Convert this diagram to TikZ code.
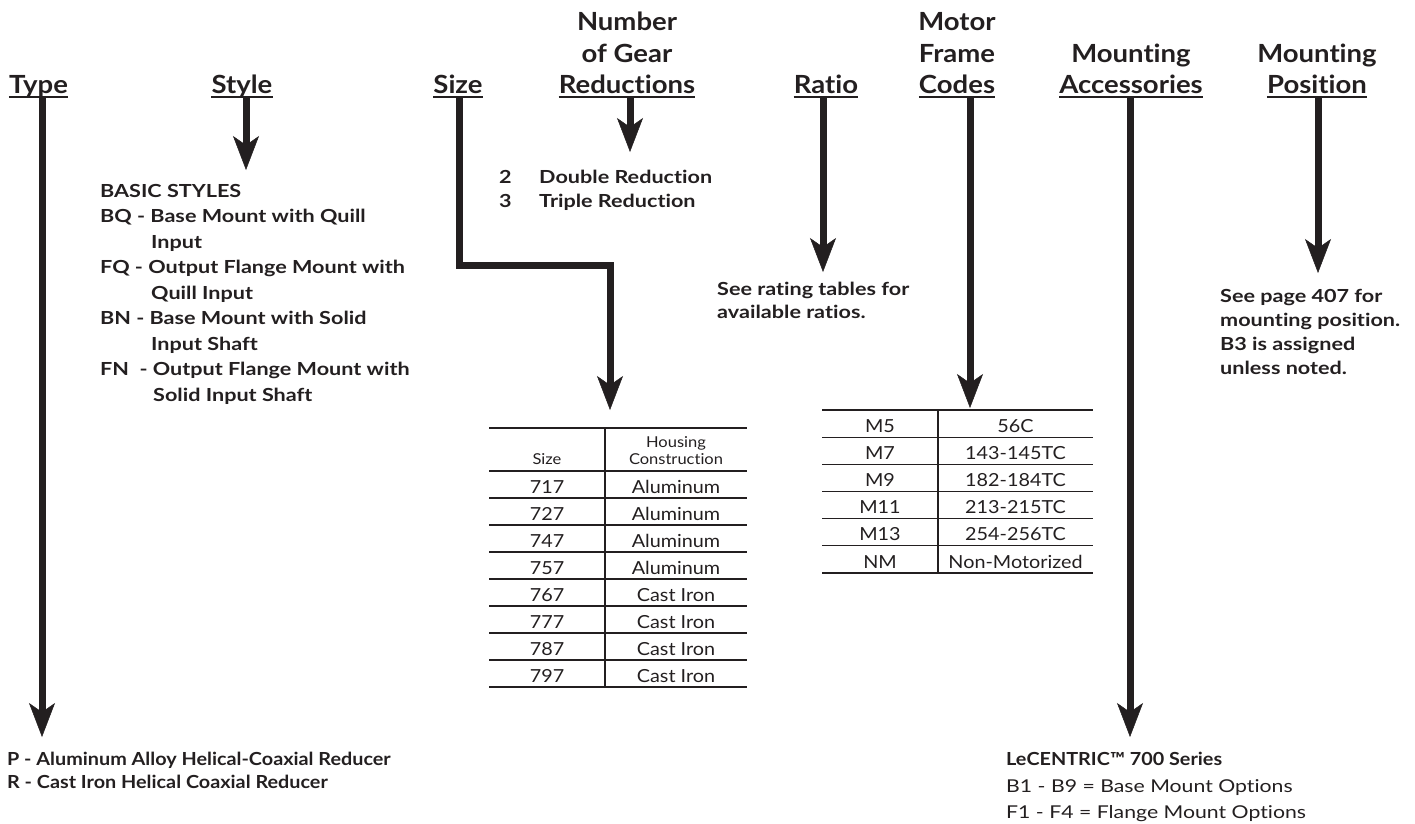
\documentclass[tikz,border=0pt]{standalone}
\usepackage{fontspec}
\setmainfont{Lato}[FakeStretch=1.2,Ligatures=NoCommon]
\newfontfamily\hdrfont{Lato}[FakeStretch=1.1,Ligatures=NoCommon]
\newfontfamily\cellfont{Lato}[FakeStretch=1.1,Ligatures=NoCommon]
\usetikzlibrary{arrows.meta}
\definecolor{ink}{HTML}{231F20}

\begin{document}
\begin{tikzpicture}[x=1pt,y=-1pt,
  hdr/.style={font=\hdrfont\fontsize{25}{25}\selectfont\bfseries,text=ink,inner sep=0pt,text height=18pt,text depth=4pt,anchor=base},
  body/.style={font=\fontsize{18}{18}\selectfont\bfseries,text=ink,inner sep=0pt,anchor=base west},
  foot/.style={font=\hdrfont\fontsize{18}{18}\selectfont\bfseries,text=ink,inner sep=0pt,anchor=base west},
  note/.style={font=\fontsize{17.7}{17.7}\selectfont,text=ink,inner sep=0pt,anchor=base west},
  cell/.style={font=\cellfont\fontsize{18}{18}\selectfont,text=ink,inner sep=0pt,anchor=base},
  colhead/.style={font=\cellfont\fontsize{15}{15}\selectfont,text=ink,inner sep=0pt,anchor=base},
  uline/.style={draw=ink,line width=1.5pt},
  arr/.style={draw=ink,line width=7pt,-{Stealth[length=34pt,width=26pt,inset=9pt,line width=0.5pt]}},
  thickrule/.style={draw=ink,line width=2.5pt},
  thinrule/.style={draw=ink,line width=1.2pt}]
  \useasboundingbox (0,0) rectangle (1415,823);

  % column headings
  \node[hdr] (hType) at (38.5,93) {Type};
  \node[hdr] (hStyle) at (242,93) {Style};
  \node[hdr] (hSize) at (458,93) {Size};
  \node[hdr] (hNum) at (627,30) {Number};
  \node[hdr] (hGear) at (627,62) {of Gear};
  \node[hdr] (hRed) at (627,93) {Reductions};
  \node[hdr] (hRatio) at (826,93) {Ratio};
  \node[hdr] (hMotor) at (957,30) {Motor};
  \node[hdr] (hFrame) at (957,62) {Frame};
  \node[hdr] (hCodes) at (957,93) {Codes};
  \node[hdr] (hAccM) at (1131,62) {Mounting};
  \node[hdr] (hAcc) at (1131,93) {Accessories};
  \node[hdr] (hPosM) at (1317,62) {Mounting};
  \node[hdr] (hPos) at (1317,93) {Position};
  \foreach \h in {hType,hStyle,hSize,hRed,hRatio,hCodes,hAcc,hPos}
    \draw[uline] (\h.south west) -- (\h.south east);

  % arrow ends
  \coordinate (tType) at (42,737);
  \coordinate (tStyle) at (246,170);
  \coordinate (kSize) at (459,265);
  \coordinate (tSize) at (610,410);
  \coordinate (tRed) at (630,152);
  \coordinate (tRatio) at (823,272);
  \coordinate (tCodes) at (970,408);
  \coordinate (tAcc) at (1130,737);
  \coordinate (tPos) at (1318,273);

  \draw[arr] (hType.south -| tType) -- (tType);
  \draw[arr] (hStyle.south -| tStyle) -- (tStyle);
  \draw[arr] (hSize.south -| kSize) -- (kSize) -| (tSize);
  \draw[arr] (hRed.south -| tRed) -- (tRed);
  \draw[arr] (hRatio.south -| tRatio) -- (tRatio);
  \draw[arr] (hCodes.south -| tCodes) -- (tCodes);
  \draw[arr] (hAcc.south -| tAcc) -- (tAcc);
  \draw[arr] (hPos.south -| tPos) -- (tPos);

  % style list
  \foreach \x/\t [count=\i from 0] in {100/BASIC STYLES, 100/{BQ - Base Mount with Quill}, 151/Input,
      100/{FQ - Output Flange Mount with}, 151/{Quill Input}, 100/{BN - Base Mount with Solid},
      151/{Input Shaft}, 100/{FN\ \ - Output Flange Mount with}, 153/{Solid Input Shaft}}
    \node[body] (sty\i) at (\x,197+25.5*\i) {\t};

  % reductions
  \foreach \n/\t [count=\i from 0] in {2/Double Reduction, 3/Triple Reduction} {
    \node[body] (rn\i) at (499,183+24*\i) {\n};
    \node[body] (rt\i) at (539,183+24*\i) {\t};
  }

  % ratio and position notes
  \node[body] (rat1) at (717,295) {See rating tables for};
  \node[body] (rat2) at (717,318) {available ratios.};
  \foreach \t [count=\i from 0] in {See page 407 for, mounting position., B3 is assigned, unless noted.}
    \node[body] (pos\i) at (1220,302+24*\i) {\t};

  % type and accessories notes
  \node[foot] (typP) at (7,765) {P - Aluminum Alloy Helical-Coaxial Reducer};
  \node[foot] (typR) at (7,788) {R - Cast Iron Helical Coaxial Reducer};
  \node[foot] (accL) at (1006,765) {LeCENTRIC™ 700 Series};
  \node[note] (accB) at (1006,792) {B1 - B9 = Base Mount Options};
  \node[note] (accF) at (1006,818) {F1 - F4 = Flange Mount Options};

  % size table
  \draw[thickrule] (489,428) -- (747,428);
  \draw[thickrule] (489,471) -- (747,471);
  \draw[thickrule] (489,687) -- (747,687);
  \foreach \i in {1,...,7}
    \draw[thinrule] (489,471+27*\i) -- (747,471+27*\i);
  \draw[thinrule] (605,428) -- (605,687);
  \node[colhead] (szH) at (547,464) {Size};
  \node[colhead] (hcH1) at (676,447) {Housing};
  \node[colhead] (hcH2) at (676,464) {Construction};
  \foreach \s/\m [count=\i] in {717/Aluminum, 727/Aluminum, 747/Aluminum, 757/Aluminum,
      767/Cast Iron, 777/Cast Iron, 787/Cast Iron, 797/Cast Iron} {
    \node[cell] (sz\i) at (547,466+27*\i) {\s};
    \node[cell] (hc\i) at (676,466+27*\i) {\m};
  }

  % motor table
  \draw[thickrule] (822,410) -- (1093,410);
  \draw[thickrule] (822,573) -- (1093,573);
  \foreach \i in {1,...,5}
    \draw[thinrule] (822,410+27.17*\i) -- (1093,410+27.17*\i);
  \draw[thinrule] (938,410) -- (938,573);
  \foreach \c/\f [count=\i] in {M5/56C, M7/143-145TC, M9/182-184TC, M11/213-215TC,
      M13/254-256TC, NM/Non-Motorized} {
    \node[cell] (mc\i) at (880,405+27.17*\i) {\c};
    \node[cell] (mf\i) at (1015.5,405+27.17*\i) {\f};
  }
\end{tikzpicture}
\end{document}
